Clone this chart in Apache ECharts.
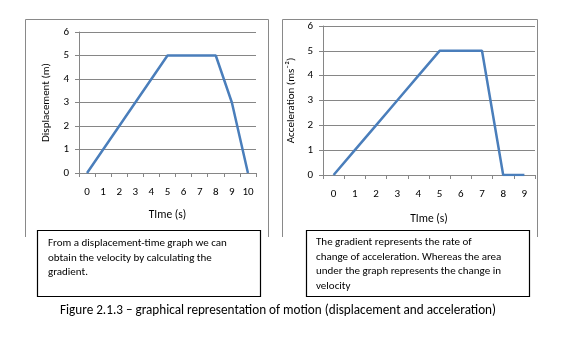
<!DOCTYPE html>
<html>
<head>
<meta charset="utf-8">
<script src="https://cdn.jsdelivr.net/npm/echarts@6/dist/echarts.min.js"></script>
<style>
html,body{margin:0;padding:0;background:#fff;}
#c{width:567px;height:341px;}
</style>
</head>
<body>
<div id="c"></div>
<script>
const dispTime = ['0','1','2','3','4','5','6','7','8','9','10'];
const dispValues = [0,1,2,3,4,5,5,5,5,3,0];
const accTime = ['0','1','2','3','4','5','6','7','8','9'];
const accValues = [0,1,2,3,4,5,5,5,0,0];
const yMin = 0, yMax = 6, yStep = 1;
const dispYName = 'Displacement (m)';
const accYName = 'Acceleration (ms\u207B\u00B2)';
const xName = 'TIme (s)';
const leftNote = ['From a displacement-time graph we can','obtain the velocity by calculating the','gradient.'];
const rightNote = ['The gradient represents the rate of','change of acceleration. Whereas the area','under the graph represents the change in','velocity'];
const caption = 'Figure 2.1.3 \u2013 graphical representation of motion (displacement and acceleration)';

const FONT = 'Carlito, Lato, sans-serif';
const gridCol = '#868686';
const lineCol = '#4a7ebb';

function xAxis(idx, data, gap){
  return {
    type:'category', gridIndex:idx, data:data, boundaryGap:true,
    axisLine:{lineStyle:{color:gridCol,width:1}},
    axisTick:{show:true, alignWithLabel:false, length:4, lineStyle:{color:gridCol}},
    axisLabel:{color:'#000', fontFamily:FONT, fontSize:11, margin:14},
    name:xName, nameLocation:'middle', nameGap:gap,
    nameTextStyle:{color:'#000', fontFamily:FONT, fontSize:11.5}
  };
}
function yAxis(idx, name, gap){
  return {
    type:'value', gridIndex:idx, min:yMin, max:yMax, interval:yStep,
    axisLine:{show:true, lineStyle:{color:gridCol,width:1}},
    axisTick:{show:true, length:4, lineStyle:{color:gridCol}},
    splitLine:{show:true, lineStyle:{color:gridCol,width:1}},
    axisLabel:{color:'#000', fontFamily:FONT, fontSize:11, margin:10},
    name:name, nameLocation:'middle', nameGap:gap, nameRotate:90,
    nameTextStyle:{color:'#000', fontFamily:FONT, fontSize:11}
  };
}
function noteText(x, y, lines){
  return {type:'text', left:x, top:y, style:{text:lines.join('\n'), font:'11px '+FONT, fill:'#000', lineHeight:14.6}};
}

const chart = echarts.init(document.getElementById('c'), null, {renderer:'canvas'});
chart.setOption({
  animation:false,
  backgroundColor:'#fff',
  grid:[
    {left:79, right:311, top:32, bottom:168},
    {left:323, right:32, top:26, bottom:166}
  ],
  xAxis:[xAxis(0, dispTime, 36), xAxis(1, accTime, 38)],
  yAxis:[yAxis(0, dispYName, 27), yAxis(1, accYName, 26)],
  series:[
    {type:'line', xAxisIndex:0, yAxisIndex:0, data:dispValues, showSymbol:false, lineStyle:{color:lineCol,width:2.5}},
    {type:'line', xAxisIndex:1, yAxisIndex:1, data:accValues, showSymbol:false, lineStyle:{color:lineCol,width:2.5}}
  ],
  graphic:[
    {type:'polyline', shape:{points:[[25.5,237],[25.5,19.5],[268.5,19.5],[268.5,237]]}, style:{stroke:'#898989',lineWidth:1,fill:null}},
    {type:'polyline', shape:{points:[[282.5,237],[282.5,19.5],[537.5,19.5],[537.5,237]]}, style:{stroke:'#898989',lineWidth:1,fill:null}},
    {type:'rect', shape:{x:37.5,y:230.5,width:223,height:66}, style:{stroke:'#000',lineWidth:1.2,fill:'#fff'}},
    {type:'rect', shape:{x:306.5,y:230.5,width:223,height:66}, style:{stroke:'#000',lineWidth:1.2,fill:'#fff'}},
    noteText(48, 236, leftNote),
    noteText(316, 235, rightNote),
    {type:'text', left:60, top:304, style:{text:caption, font:'13.2px '+FONT, fill:'#000'}}
  ]
});
</script>
</body>
</html>
